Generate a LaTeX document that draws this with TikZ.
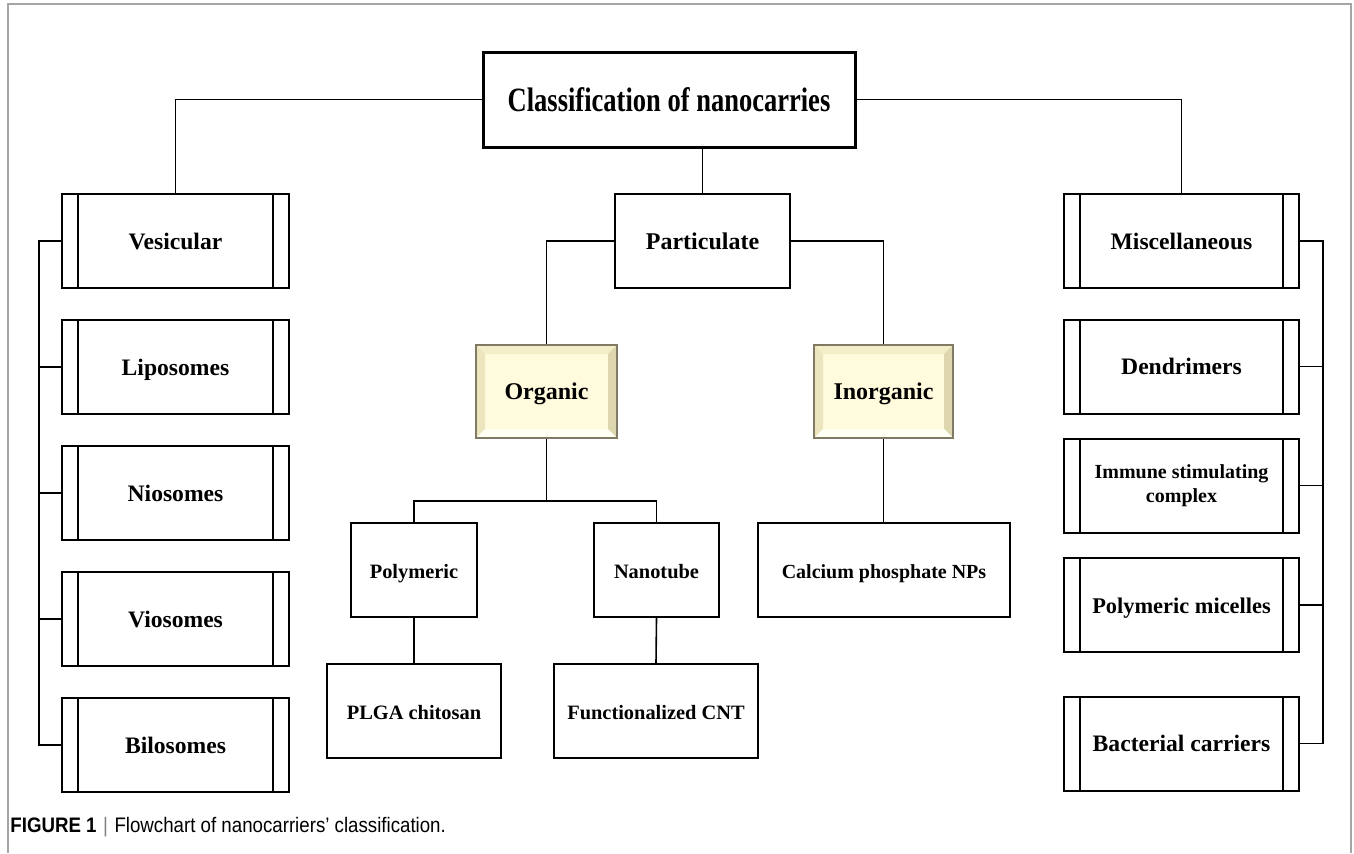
\documentclass[tikz,border=0pt]{standalone}
\usepackage{fontspec}
\usepackage{graphicx}
\setmainfont{Liberation Serif}
\newfontfamily\capfont{Liberation Sans}
\usetikzlibrary{calc}

\definecolor{framegray}{RGB}{165,165,165}
\definecolor{bevelfill}{RGB}{255,251,220}
\definecolor{bevelline}{RGB}{128,122,100}
\definecolor{beveltop}{RGB}{243,237,200}
\definecolor{bevelleft}{RGB}{236,229,190}
\definecolor{bevelright}{RGB}{222,214,175}
\definecolor{bevelbottom}{RGB}{255,255,244}

\tikzstyle{sidebox} = [draw=black,line width=1pt,minimum height=47pt,
  font=\bfseries\fontsize{11.8}{14}\selectfont,align=center,text height=0.84em,text depth=0pt,
  path picture={
    \draw[line width=1pt] ([xshift=7.8pt]path picture bounding box.north west) -- ([xshift=7.8pt]path picture bounding box.south west);
    \draw[line width=1pt] ([xshift=-7.8pt]path picture bounding box.north east) -- ([xshift=-7.8pt]path picture bounding box.south east);
  }]
\tikzstyle{plainbox} = [draw=black,line width=1pt,minimum height=47pt,
  font=\bfseries\fontsize{10.2}{12}\selectfont,text height=0.84em,text depth=0pt]
\tikzstyle{bevelbox} = [draw=bevelline,line width=1pt,fill=bevelfill,minimum height=46.5pt,
  font=\bfseries\fontsize{12}{14}\selectfont,text height=0.84em,text depth=0pt,
  path picture={
    \fill[beveltop] (path picture bounding box.north west) -- (path picture bounding box.north east)
      -- ([shift={(-4.5pt,-4.5pt)}]path picture bounding box.north east) -- ([shift={(4.5pt,-4.5pt)}]path picture bounding box.north west) -- cycle;
    \fill[bevelleft] (path picture bounding box.north west) -- (path picture bounding box.south west)
      -- ([shift={(4.5pt,4.5pt)}]path picture bounding box.south west) -- ([shift={(4.5pt,-4.5pt)}]path picture bounding box.north west) -- cycle;
    \fill[bevelright] (path picture bounding box.north east) -- (path picture bounding box.south east)
      -- ([shift={(-4.5pt,4.5pt)}]path picture bounding box.south east) -- ([shift={(-4.5pt,-4.5pt)}]path picture bounding box.north east) -- cycle;
    \fill[bevelbottom] (path picture bounding box.south west) -- (path picture bounding box.south east)
      -- ([shift={(-4.5pt,4.5pt)}]path picture bounding box.south east) -- ([shift={(4.5pt,4.5pt)}]path picture bounding box.south west) -- cycle;
  }]
\tikzstyle{link} = [line width=0.8pt]
\tikzstyle{spine} = [line width=0.6pt]

\begin{document}
\begin{tikzpicture}[x=0.5pt,y=-0.5pt]
  \useasboundingbox (0,0) rectangle (1354,853);
  % outer frame
  \draw[framegray,line width=0.6pt] (8,853) -- (8,4) -- (1351,4) -- (1351,853);

  % top
  \node[draw=black,line width=1.5pt,minimum width=186pt,minimum height=47.5pt] (title) at (669,99.5)
    {\scalebox{0.78}[1]{\bfseries\fontsize{17}{20}\selectfont Classification of nanocarries}};

  % vesicular column
  \node[sidebox,minimum width=113.5pt] (vesic) at (175.5,241) {Vesicular};
  \node[sidebox,minimum width=113.5pt] (lipo)  at (175.5,367) {Liposomes};
  \node[sidebox,minimum width=113.5pt] (nio)   at (175.5,493) {Niosomes};
  \node[sidebox,minimum width=113.5pt] (vio)   at (175.5,619) {Viosomes};
  \node[sidebox,minimum width=113.5pt] (bilo)  at (175.5,745) {Bilosomes};

  % miscellaneous column
  \node[sidebox,minimum width=117.5pt] (misc)   at (1181.5,241) {Miscellaneous};
  \node[sidebox,minimum width=117.5pt] (dend)   at (1181.5,366.5) {Dendrimers};
  \node[sidebox,minimum width=117.5pt,text height=,text depth=,font=\bfseries\fontsize{10}{12}\selectfont] (immune) at (1181.5,485.5) {Immune stimulating\\complex};
  \node[sidebox,minimum width=117.5pt,font=\bfseries\fontsize{11.2}{14}\selectfont] (micel) at (1181.5,605) {Polymeric micelles};
  \node[sidebox,minimum width=117.5pt] (bact)   at (1181.5,743.5) {Bacterial carriers};

  % particulate branch
  \node[plainbox,minimum width=87.5pt,font=\bfseries\fontsize{12}{14}\selectfont] (part) at (702.5,241) {Particulate};
  \node[bevelbox,minimum width=70.5pt] (org)   at (546.5,391.5) {Organic};
  \node[bevelbox,minimum width=69.5pt] (inorg) at (883.5,391.5) {Inorganic};
  \node[plainbox,minimum width=63pt]  (poly) at (414,570) {Polymeric};
  \node[plainbox,minimum width=62.5pt] (nano) at (656.5,570) {Nanotube};
  \node[plainbox,minimum width=87pt]  (plga) at (414,711) {PLGA chitosan};
  \node[plainbox,minimum width=102pt] (fcnt) at (656,711) {Functionalized CNT};
  \node[plainbox,minimum width=126pt,font=\bfseries\fontsize{10}{12}\selectfont] (calc) at (884,570) {Calcium phosphate NPs};

  % connectors
  \draw[link] (title.west) -| (vesic.north);
  \draw[link] (title.east) -| (misc.north);
  \draw[spine] (title.south -| part.north) -- (part.north);
  \draw[link] (part.west) -| (org.north);
  \draw[link] (part.east) -| (inorg.north);
  \coordinate (ojunc) at (546.5,501);
  \draw[link] (org.south) -- (ojunc);
  \draw[link] (poly.north) |- (ojunc) -| (nano.north);
  \draw[link] (poly.south) -- (plga.north);
  \draw[link] (nano.south) -- (fcnt.north);
  \draw[link] (inorg.south) -- (inorg.south |- calc.north);

  \coordinate (lspine) at (39,0);
  \draw[spine] (vesic.west) -| (lspine |- bilo.west) -- (bilo.west);
  \foreach \n in {lipo,nio,vio}
    \draw[spine] (\n.west) -- (lspine |- \n.west);
  \coordinate (rspine) at (1323,0);
  \draw[spine] (misc.east) -| (rspine |- bact.east) -- (bact.east);
  \foreach \n in {dend,immune,micel}
    \draw[spine] (\n.east) -- (rspine |- \n.east);

  % caption
  \node[anchor=west,inner sep=0pt] (cap) at (10,827)
    {\scalebox{0.89}[1]{\capfont\fontsize{10.5}{12}\selectfont\textbf{FIGURE 1}\hspace{0.35em}{\color{gray}|}\hspace{0.35em}Flowchart of nanocarriers’ classification.}};
\end{tikzpicture}
\end{document}
